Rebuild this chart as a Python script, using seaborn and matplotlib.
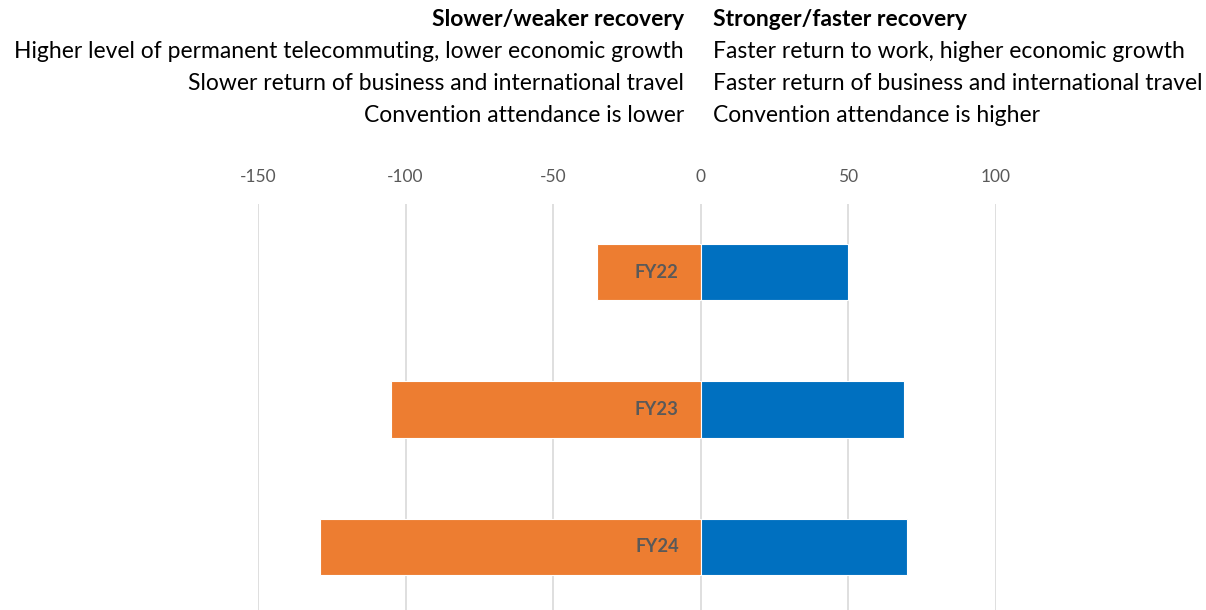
import matplotlib
matplotlib.use("Agg")
import matplotlib.pyplot as plt
import seaborn as sns
import pandas as pd

# ---- data ----
years = ["FY22", "FY23", "FY24"]
slower = [-35, -105, -129]
stronger = [50, 69, 70]
xticks = [-150, -100, -50, 0, 50, 100]
left_header = "Slower/weaker recovery"
left_lines = ["Higher level of permanent telecommuting, lower economic growth",
              "Slower return of business and international travel",
              "Convention attendance is lower"]
right_header = "Stronger/faster recovery"
right_lines = ["Faster return to work, higher economic growth",
               "Faster return of business and international travel",
               "Convention attendance is higher"]

sns.set_theme(style="white")
plt.rcParams['font.family'] = ['Lato', 'DejaVu Sans']

W, H = 1206, 610
fig = plt.figure(figsize=(W / 100, H / 100), dpi=100)
ax = fig.add_axes([258 / W, 0, 738 / W, 406.5 / H])

df = pd.DataFrame({
    "year": years * 2,
    "value": slower + stronger,
    "scenario": ["Slower"] * len(years) + ["Stronger"] * len(years),
})
sns.barplot(data=df, y="year", x="value", hue="scenario",
            palette={"Slower": "#ED7D31", "Stronger": "#0070C0"},
            saturation=1, dodge=False, width=0.41, orient="h", ax=ax,
            legend=False, linewidth=0.8, edgecolor="white")

ax.set_xlim(-150, 100)
ax.set_ylim(2.46, -0.5)
ax.set_xticks(xticks)
ax.set_xticklabels([str(v) for v in xticks])
ax.xaxis.tick_top()
ax.tick_params(axis="x", length=0, pad=13, labelsize=12.5, labelcolor="#595959")
ax.tick_params(axis="y", left=False, labelleft=False)
ax.set_xlabel("")
ax.set_ylabel("")
ax.xaxis.grid(True, color="#D9D9D9", linewidth=1.2)
ax.yaxis.grid(False)
ax.set_axisbelow(True)
for s in ax.spines.values():
    s.set_visible(False)

fig.canvas.draw()
r = fig.canvas.get_renderer()


def fit_size(txt, target_px, weight="normal"):
    t = fig.text(0, 0, txt, fontsize=10, fontweight=weight)
    w = t.get_window_extent(r).width
    t.remove()
    return 10 * target_px / w


hs = min(fit_size(left_lines[0], 674), fit_size(right_lines[1], 490))
ys = [20, 52, 84, 116]
fig.text(684 / W, 1 - ys[0] / H, left_header, ha="right", va="center",
         fontsize=hs, fontweight="bold", color="black")
fig.text(713 / W, 1 - ys[0] / H, right_header, ha="left", va="center",
         fontsize=hs, fontweight="bold", color="black")
for i, (lt, rt) in enumerate(zip(left_lines, right_lines)):
    fig.text(684 / W, 1 - ys[i + 1] / H, lt, ha="right", va="center",
             fontsize=hs, color="black")
    fig.text(713 / W, 1 - ys[i + 1] / H, rt, ha="left", va="center",
             fontsize=hs, color="black")

fs = fit_size(years[0], 44, weight="bold")
for i, y in enumerate(years):
    ax.annotate(y, xy=(0, i), xytext=(-22, 0), textcoords="offset pixels",
                ha="right", va="center", fontsize=fs, fontweight="bold",
                color="#595959")

fig.savefig("out.png", dpi=100)
